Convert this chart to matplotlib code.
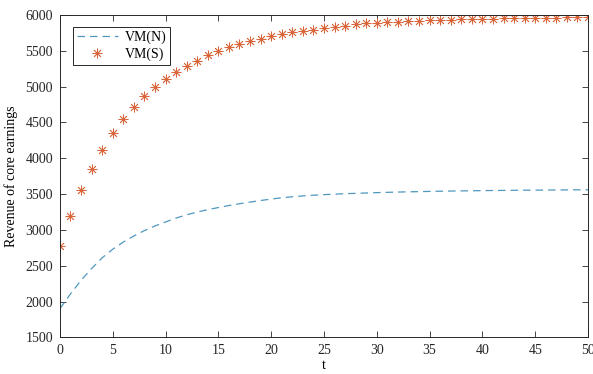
import matplotlib.pyplot as plt
import numpy as np

plt.rcParams['font.family'] = ['Liberation Serif', 'DejaVu Serif']
plt.rcParams['font.size'] = 10

# time steps
t = np.arange(0, 51)

# VM(N): non-shared value model
vm_n = np.array([
    1900, 2105, 2295, 2460, 2610, 2730, 2830, 2915, 2990, 3055,
    3110, 3165, 3210, 3250, 3282, 3312, 3340, 3365, 3388, 3410,
    3430, 3448, 3462, 3474, 3484, 3492, 3499, 3505, 3510, 3515,
    3520, 3524, 3528, 3531, 3534, 3537, 3540, 3542, 3544, 3546,
    3548, 3550, 3551, 3553, 3554, 3555, 3556, 3557, 3558, 3559,
    3560,
])

# VM(S): shared value model
vm_s = np.array([
    2776, 3191, 3559, 3850, 4121, 4350, 4547, 4720, 4864, 4995,
    5107, 5201, 5290, 5364, 5435, 5495, 5547, 5593, 5636, 5668,
    5701, 5734, 5759, 5778, 5796, 5814, 5835, 5851, 5868, 5882,
    5889, 5898, 5906, 5912, 5917, 5925, 5930, 5933, 5939, 5943,
    5945, 5950, 5952, 5954, 5960, 5962, 5963, 5964, 5967, 5971,
    5975,
])

fig = plt.figure(figsize=(5.93, 3.74), dpi=100)
ax = fig.add_axes([0.101, 0.098, 0.8906, 0.862])

ax.plot(t, vm_n, '--', color='#4f97bf', lw=0.9, dashes=(6, 4), label='VM(N)')
# 8-spoke asterisk marker
ax.plot(t, vm_s, marker=(8, 2, 0), color='#d8663a', ms=7, mew=0.6,
        linestyle='none', label='VM(S)')

ax.set_xlim(0, 50)
ax.set_ylim(1500, 6000)
ax.set_xticks(np.arange(0, 51, 5))
ax.set_yticks(np.arange(1500, 6001, 500))
ax.tick_params(direction='in', top=True, right=True, length=4, width=0.6,
               colors='#262626', labelsize=10, pad=5)
for s in ax.spines.values():
    s.set_linewidth(0.7)
    s.set_color('#262626')

ax.set_xlabel('t', labelpad=1)
ax.set_ylabel('Revenue of core earnings', labelpad=5)

leg = ax.legend(loc='upper left', bbox_to_anchor=(0.012, 0.985), fancybox=False,
                edgecolor='#262626', framealpha=1, fontsize=10,
                handlelength=2.9, handletextpad=0.5, borderpad=0.3,
                labelspacing=0.2)
leg.get_frame().set_linewidth(0.7)

fig.savefig('out.png', dpi=100)
